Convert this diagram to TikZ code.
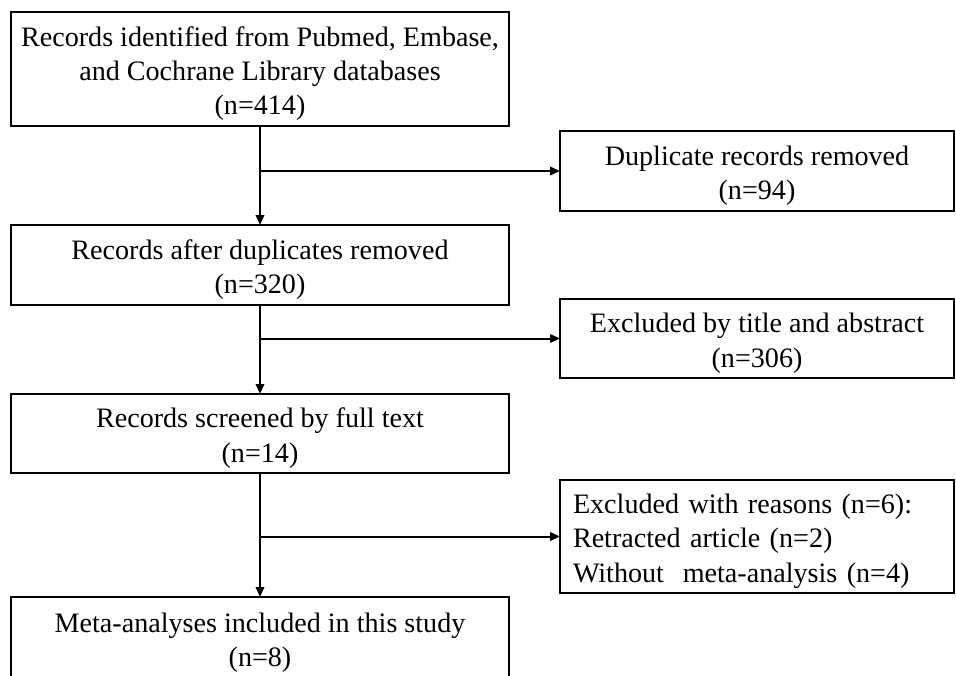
\documentclass[tikz,border=0pt]{standalone}
\usepackage{fontspec}
\setmainfont{Liberation Serif}
\usetikzlibrary{arrows.meta}

\definecolor{c000000}{RGB}{0,0,0}
\definecolor{cffffff}{RGB}{255,255,255}
\def \globalscale {1.000000}
\newcommand{\boxstrut}{\rule{0pt}{16.5pt}}

\tikzset{
  flowbox/.style={draw=c000000, fill=cffffff, line width=0.04cm, align=center,
    font=\fontsize{16}{19.4}\selectfont},
  flowarrow/.style={draw=c000000, line width=0.04cm,
    -{Triangle[length=0.2cm,width=0.17cm]}}
}

\begin{document}
\begin{tikzpicture}[y=1cm, x=1cm, yscale=\globalscale,xscale=\globalscale, every node/.append style={scale=\globalscale}, inner sep=0pt, outer sep=0pt]
  \useasboundingbox (0.0, 0.0) rectangle (19.12, -13.5);
  \clip (0.0, 0.0) rectangle (19.12, -13.5);



  % main column
  \node[flowbox, minimum width=9.96cm, minimum height=2.28cm] (records) at (5.2, -1.38)
    {\boxstrut Records identified from Pubmed, Embase,\\and Cochrane Library databases\\(n=414)};



  \node[flowbox, minimum width=9.96cm, minimum height=1.6cm] (nodup) at (5.2, -5.3)
    {\boxstrut Records after duplicates removed\\(n=320)};



  \node[flowbox, minimum width=9.96cm, minimum height=1.58cm] (fulltext) at (5.2, -8.67)
    {\boxstrut Records screened by full text\\(n=14)};



  \node[flowbox, minimum width=9.96cm, minimum height=1.64cm] (included) at (5.2, -12.76)
    {\boxstrut Meta-analyses included in this study\\(n=8)};



  % excluded column
  \node[flowbox, minimum width=7.88cm, minimum height=1.6cm] (duplicates) at (15.14, -3.42)
    {\boxstrut Duplicate records removed\\(n=94)};



  \node[flowbox, minimum width=7.88cm, minimum height=1.58cm] (titleabs) at (15.14, -6.77)
    {\boxstrut Excluded by title and abstract\\(n=306)};



  \node[flowbox, minimum width=7.88cm, minimum height=2.26cm, text width=7.36cm, align=left] (reasons) at (15.14, -10.73)
    {\boxstrut Excluded with reasons (n=6):\\Retracted article (n=2)\\Without\ \ meta-analysis (n=4)};



  % connectors
  \draw[flowarrow] (records) -- (nodup);
  \draw[flowarrow] (records.south |- duplicates.west) -- (duplicates.west);



  \draw[flowarrow] (nodup) -- (fulltext);
  \draw[flowarrow] (nodup.south |- titleabs.west) -- (titleabs.west);



  \draw[flowarrow] (fulltext) -- (included);
  \draw[flowarrow] (fulltext.south |- reasons.west) -- (reasons.west);

\end{tikzpicture}
\end{document}
